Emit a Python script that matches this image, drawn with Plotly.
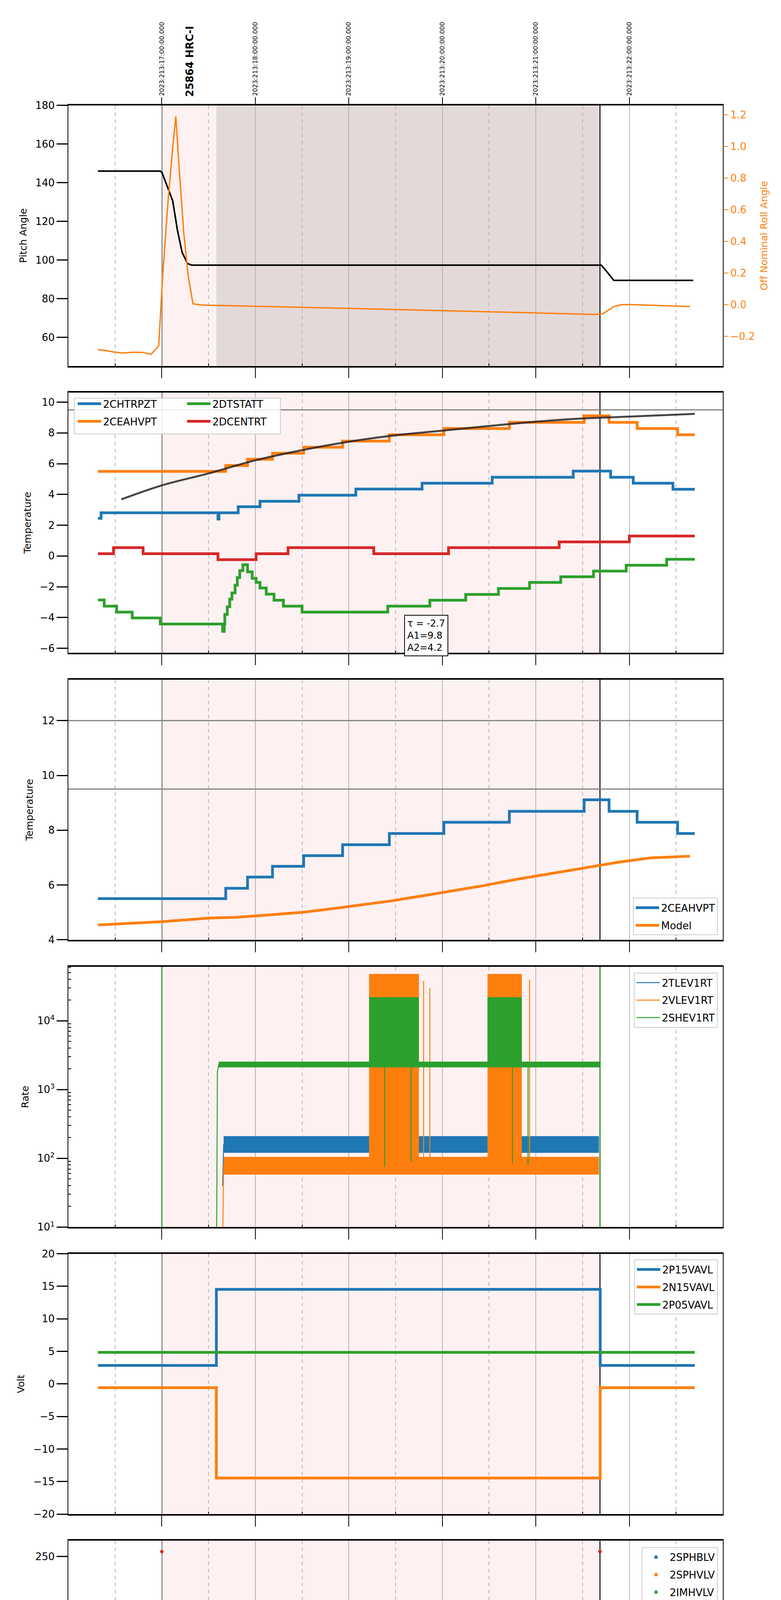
import plotly.graph_objects as go

DAY = "2023-08-01 "

# ---- timeline ---------------------------------------------------------------
X_RANGE = ["12:00", "19:00"]
HOURS = ["13:00", "14:00", "15:00", "16:00", "17:00", "18:00"]
HOUR_LABELS = ["13h", "14h", "15h", "16h", "17h", "18h"]
HALF_HOURS = ["12:30", "13:30", "14:30", "15:30", "16:30", "17:30", "18:30"]
UTC_LABELS = ["2023:213:17:00:00.000", "2023:213:18:00:00.000",
              "2023:213:19:00:00.000", "2023:213:20:00:00.000",
              "2023:213:21:00:00.000", "2023:213:22:00:00.000"]
OBS_LABEL = "25864 HRC-I"
OBS_TIME = "13:18"
SCI_START, SCI_STOP = "13:00", "17:41:10"
DWELL_START = "13:35"

# ---- panel 1: pitch / roll ----------------------------------------------------
PITCH_T = ["12:19", "12:59", "13:00", "13:07", "13:10", "13:13", "13:16:30",
           "13:19", "17:42", "17:45:30", "17:50", "18:41"]
PITCH = [146.0, 146.0, 145.5, 130.6, 115.5, 104.0, 98.2, 97.4, 97.4, 94.1,
         89.5, 89.5]
ROLL_T = ["12:19", "12:24", "12:29", "12:35", "12:41", "12:48", "12:53", "12:58",
          "13:00:30", "13:04", "13:07", "13:09", "13:11", "13:14", "13:17",
          "13:20", "13:26", "14:00", "15:00", "16:00", "17:00", "17:38",
          "17:43", "17:50", "17:55", "18:01", "18:39"]
ROLL = [-0.285, -0.29, -0.299, -0.306, -0.301, -0.302, -0.315, -0.26, 0.175,
        0.656, 0.995, 1.19, 0.88, 0.46, 0.175, 0.005, -0.003, -0.01, -0.024,
        -0.038, -0.052, -0.062, -0.058, -0.013, 0.0, 0.0, -0.012]

# ---- panel 2: temperatures ----------------------------------------------------
CHTRPZT_T = ["12:19", "12:21", "13:36", "13:36:40", "13:49", "14:03", "14:28",
             "15:04:30", "15:47", "16:32", "17:24", "17:48", "18:02:30",
             "18:28", "18:42"]
CHTRPZT = [2.45, 2.81, 2.4, 2.81, 3.2, 3.56, 3.95, 4.35, 4.73, 5.12, 5.52,
           5.12, 4.73, 4.34, 4.34]
CEAHVPT_T = ["12:19", "13:41", "13:55", "14:11", "14:31", "14:56", "15:26",
             "16:01", "16:43", "17:31", "17:47", "18:05", "18:31", "18:42"]
CEAHVPT = [5.5, 5.88, 6.29, 6.68, 7.07, 7.47, 7.88, 8.29, 8.69, 9.11, 8.69,
           8.29, 7.88, 7.88]
DTSTATT_T = ["12:19", "12:23", "12:31", "12:41", "12:59", "13:39", "13:40",
             "13:40:25", "13:42", "13:43:35", "13:45", "13:47", "13:48:25",
             "13:50", "13:52", "13:55", "13:58", "14:00:30", "14:03", "14:07",
             "14:12", "14:18", "14:30", "15:25", "15:52", "16:15", "16:36",
             "16:56", "17:16", "17:37", "17:58", "18:24", "18:42"]
DTSTATT = [-2.86, -3.26, -3.65, -4.03, -4.42, -4.9, -4.42, -3.8, -3.3, -2.8,
           -2.4, -1.9, -1.4, -0.95, -0.57, -1.03, -1.45, -1.72, -2.08, -2.48,
           -2.87, -3.26, -3.65, -3.26, -2.87, -2.5, -2.11, -1.72, -1.35,
           -0.98, -0.6, -0.21, -0.21]
DCENTRT_T = ["12:19", "12:29", "12:48", "13:36", "14:00:30", "14:21", "15:16",
             "16:04", "17:15", "18:00", "18:42"]
DCENTRT = [0.15, 0.54, 0.15, -0.24, 0.15, 0.54, 0.15, 0.54, 0.92, 1.3, 1.3]
FIT_T = ["12:34", "13:00", "13:30", "14:00", "14:30", "15:00", "15:30",
         "16:00", "16:30", "17:00", "17:30", "18:00", "18:42"]
FIT = [3.68, 4.59, 5.37, 6.22, 6.88, 7.43, 7.85, 8.15, 8.45, 8.73, 8.94, 9.06,
       9.24]
FIT_TEXT = "τ = -2.7<br>A1=9.8<br>A2=4.2"
TEMP_LIMITS = [9.5]

# ---- panel 3: model -----------------------------------------------------------
MODEL_T = ["12:19", "13:00", "13:30", "13:48", "14:08", "14:30", "14:49",
           "15:08", "15:27:30", "15:47", "16:06", "16:27", "16:47", "17:10",
           "17:32", "17:53", "18:14", "18:39"]
MODEL = [4.54, 4.66, 4.79, 4.82, 4.9, 5.0, 5.13, 5.28, 5.42, 5.6, 5.77, 5.98,
         6.2, 6.42, 6.64, 6.83, 6.99, 7.05]
MODEL_LIMITS = [12.0, 9.5]

# ---- panel 4: rates -----------------------------------------------------------
RATE_BURSTS = [("15:13", "15:45"), ("16:29", "16:51")]
TLEV_T = ["13:39", "13:39:40", "17:40:30"]
TLEV = [40, 160, 160]
TLEV_NOISE = [120, 210]
VLEV_T = ["13:39", "13:39:40", "17:40:30"]
VLEV = [5, 80, 80]
VLEV_NOISE = [58, 105]
VLEV_BURST = [60, 48000]
VLEV_SPIKES = ["15:48", "15:52", "16:56"]
VLEV_SPIKE_TOP = [38000, 30000, 40000]
SHEV_T = ["13:35", "13:35:40", "13:36:30", "17:41"]
SHEV = [1, 1800, 2300, 2300]
SHEV_NOISE = [2100, 2550]
SHEV_BURST = [2300, 22000]
SHEV_DIPS = ["15:23", "15:40", "16:45", "16:55"]
SHEV_DIP_LOW = [75, 90, 85, 80]
SHEV_GLITCH = ["13:00", "17:41:10"]

# ---- panel 5: voltages --------------------------------------------------------
VOLT_T = ["12:19", "13:35", "17:41:20", "18:42"]
P15VAVL = [2.85, 14.53, 2.85, 2.85]
N15VAVL = [-0.58, -14.45, -0.58, -0.58]
P05VAVL = [4.86, 4.86, 4.86, 4.86]

# ---- panel 6: HV monitor ------------------------------------------------------
SPHBLV_T, SPHBLV = [None], [None]
SPHVLV_T, SPHVLV = [None], [None]
IMHVLV_T = ["13:36", "13:36:10", "13:36:40", "13:37", "13:37:30", "13:38",
            "13:38:30", "15:16", "15:20", "15:24", "15:28", "16:45", "16:48"]
IMHVLV = [100, 96, 91, 88, 85, 82, 79, 127, 127, 127, 127, 127, 127]
IMHVLV_FLAT = [("13:38:30", "17:41"), 78.9]
IMHBLV_T = ["13:00", "13:36", "13:36:05", "13:36:10", "13:36:20", "13:36:40",
            "13:36:50", "13:37", "13:37:10", "13:37:30", "13:37:40", "13:38",
            "13:38:10", "15:16", "15:20", "15:24", "15:28", "16:45", "16:48",
            "17:14", "17:41:10"]
IMHBLV = [255, 127, 125, 123, 119, 106, 104, 100, 97, 95, 93, 90, 88, 79, 79,
          79, 79, 79, 79, 88, 255]
IMHBLV_FLAT = [("13:38", "17:41"), 86.2]

# ---- panel 7: detector temps --------------------------------------------------
SPINATM_T = ["13:35", "13:35:20", "13:39:50", "13:40:45", "13:41:40",
             "13:43:40", "13:44:35", "13:46:10", "13:47:30", "13:49",
             "13:50:40", "13:52:10", "13:54", "13:55:10", "13:57", "14:00",
             "14:01:50", "14:05:20", "14:08:10", "14:12:20", "14:16:30",
             "14:24:30", "14:42", "16:58", "17:41"]
SPINATM = [2.2, 2.84, 3.3, 3.8, 4.5, 5.0, 5.5, 6.0, 6.5, 7.0, 7.5, 8.06, 7.5,
           7.0, 6.5, 6.0, 5.6, 5.2, 4.9, 4.55, 4.15, 3.72, 3.27, 3.72, 3.72]
SPINATM_BURSTS = [("15:16", "15:45"), ("16:32", "16:55")]
SPHVATM_T = ["13:35", "13:35:30", "13:40", "13:40:40", "14:21", "14:29",
             "14:29:40", "14:44", "15:08", "15:45", "16:00", "16:33", "17:10",
             "17:41"]
SPHVATM = [14.57, 15.0, 14.6, 15.0, 15.27, 14.8, 15.27, 15.55, 15.83, 16.1,
           16.4, 16.67, 16.95, 16.95]
SPHVATM_BURSTS = [("15:13", "15:44", 10.5, 15.9), ("16:28", "16:51", 11.07, 16.45)]
SPHVATM_DROPS = ["15:22:40", "15:39:40"]
IMINATM_T = ["13:35", "14:37", "15:45", "16:52", "17:41"]
IMINATM = [0.78, 1.13, 1.55, 1.97, 1.97]
IMINATM_BURSTS = [("15:16", "15:45"), ("16:32", "16:52")]
IMHVATM_T = ["13:34:50", "13:35", "13:47:30", "13:54", "14:00", "14:07",
             "14:15", "14:24", "14:34", "14:47", "15:00", "15:45", "16:00",
             "16:52", "17:03", "17:41:10", "17:41:10"]
IMHVATM = [-5, 14.43, 14.74, 15.0, 15.27, 15.55, 15.83, 16.1, 16.4, 16.67,
           16.95, 17.5, 17.8, 18.1, 18.4, 25, -5]
IMHVATM_BURSTS = [("15:13", "15:45", 15.8, 17.3), ("16:28", "16:52", 16.6, 18.15)]

# ---- panel 8: FEA temps -------------------------------------------------------
FHTRMZT_T = ["12:19", "13:49", "13:59", "14:07:30", "14:16:10", "14:25:10",
             "14:34:30", "14:44:20", "14:54:30", "15:04:50", "15:15:20",
             "15:26", "15:37", "15:48:20", "16:00", "16:12:10", "16:25:40",
             "16:37:50", "16:52:10", "17:05:40", "17:20", "17:34:40", "18:04",
             "18:17:50", "18:32", "18:42"]
FHTRMZT = [-8.39, -7.96, -7.56, -7.15, -6.76, -6.36, -5.98, -5.58, -5.2,
           -4.81, -4.42, -4.03, -3.65, -3.28, -2.87, -2.51, -2.12, -1.73,
           -1.37, -0.99, -0.6, -0.24, -0.6, -0.99, -1.37, -1.37]
FRADPYT_T = ["14:02", "14:03:25", "14:13:20", "14:23", "14:33:30", "14:44:20",
             "14:55:30", "15:06:40", "15:18:30", "15:30:40", "15:43:30",
             "15:56:20", "16:09:40", "16:24", "16:38:50", "16:53:10",
             "17:07:50", "17:23:10", "17:40:10", "17:50:40", "18:03:30",
             "18:15:40", "18:28:40", "18:42"]
FRADPYT = [-10.05, -9.62, -9.2, -8.79, -8.39, -7.96, -7.56, -7.15, -6.76,
           -6.36, -5.98, -5.58, -5.2, -4.81, -4.42, -4.03, -3.65, -3.28, -2.87,
           -3.28, -3.65, -4.03, -4.42, -4.42]
FEPRATM_T = ["13:36:15", "13:37:50", "13:40:40", "13:43:40", "13:47", "13:52",
             "13:58", "14:04:20", "14:11:50", "14:20:20", "14:29", "14:38",
             "14:48:30", "14:57:50", "15:09", "15:45", "15:58:50", "16:11:40",
             "16:26:40", "16:52", "16:57:40", "17:14:30", "17:32", "17:41"]
FEPRATM = [-7.03, -6.6, -6.17, -5.8, -5.4, -4.99, -4.62, -4.22, -3.81, -3.42,
           -3.01, -2.64, -2.23, -1.83, -1.4, -0.17, 0.25, 0.68, 1.06, 1.49,
           1.97, 2.4, 3.0, 3.0]
FEPRATM_BURSTS = [("15:16", "15:44", -4.7, -1.3), ("16:33", "16:52", -4.7, 1.5)]
FE00ATM_T = ["13:34:50", "13:35", "13:44", "13:50", "13:57", "14:03",
             "14:08:30", "14:16", "14:23", "14:29", "14:37", "14:43:40",
             "14:51", "14:58:40", "15:10", "15:45", "15:52", "16:02:40",
             "16:12", "16:22:30", "16:52", "16:57", "17:06:40", "17:18",
             "17:31", "17:41:10", "17:41:10"]
FE00ATM = [-12, -6.33, -5.98, -5.6, -5.25, -4.9, -4.52, -4.18, -3.85, -3.5,
           -3.15, -2.8, -2.45, -2.1, -1.8, -0.46, -0.13, 0.23, 0.49, 0.81,
           1.43, 1.73, 2.05, 2.34, 3.0, 5, -12]
FE00ATM_BURSTS = [("15:13", "15:45", -1.5, 3.0), ("16:28", "16:52", 0.9, 3.0)]
FE00ATM_DROPS = ["15:22:40", "15:39:40", "16:45"]
FE00ATM_SPIKES_T = ["14:32:30", "14:46:30", "15:05", "15:54", "16:06",
                    "16:25", "16:55", "17:31"]
FE00ATM_SPIKES_LO = [-3.95, -2.8, -2.85, -0.85, 0.23, 0.1, 1.0, 1.05]
FE00ATM_SPIKES_HI = [-3.5, -2.1, -2.1, -0.13, 1.45, 0.81, 1.43, 2.6]

# ---- styling ------------------------------------------------------------------
BLUE, ORANGE, GREEN, RED = "#1f77b4", "#ff7f0e", "#2ca02c", "#d62728"
PINK, DWELL = "#fdf1f1", "#e4d9d9"
GRID = "#b4b4b4"
FONT = "DejaVu Sans"
W, H = 2000, 6200
X0, X1 = 167, 1843
TOP0, STEP, PH = 248, 738.5, 670
LW = 7  # width of the thick telemetry lines

Y_TITLES = ["Pitch Angle", "Temperature", "Temperature", "Rate", "Volt",
            "HV Monitor", "Detector Temp", "FEA Temp"]
Y_RANGES = [[45.3, 180], [-6.3, 10.63], [3.99, 13.5], [1.0, 4.787],
            [-20, 20], [0, 266], [-0.84, 19.6], [-9.9, 2.6]]
Y_TICKS = [[60, 80, 100, 120, 140, 160, 180],
           [-6, -4, -2, 0, 2, 4, 6, 8, 10],
           [4, 6, 8, 10, 12],
           [10, 100, 1000, 10000],
           [-20, -15, -10, -5, 0, 5, 10, 15, 20],
           [0, 50, 100, 150, 200, 250],
           [0, 2.5, 5, 7.5, 10, 12.5, 15, 17.5],
           [-8, -6, -4, -2, 0, 2]]


def T(times):
    return [None if t is None else DAY + t for t in times]


def axes(i):
    return ("x" if i == 1 else f"x{i}"), ("y" if i == 1 else f"y{i}")


fig = go.Figure()


def line(i, times, vals, color, width=LW, name=None, legend=None, shape="hv",
         yaxis=None):
    xa, ya = axes(i)
    fig.add_trace(go.Scatter(
        x=T(times), y=vals, mode="lines", name=name, legendgroup=name,
        line=dict(color=color, width=width, shape=shape),
        showlegend=name is not None, legend=legend,
        xaxis=xa, yaxis=yaxis or ya))


def band(i, t0, t1, lo, hi, color):
    xa, ya = axes(i)
    fig.add_trace(go.Scatter(
        x=T([t0, t1, t1, t0, t0]), y=[lo, lo, hi, hi, lo], mode="lines",
        fill="toself", fillcolor=color, line=dict(width=0, color=color),
        showlegend=False, hoverinfo="skip", xaxis=xa, yaxis=ya))


def spikes(i, times, lo, hi, color, width=3):
    xa, ya = axes(i)
    xs, ys = [], []
    for t, a, b in zip(times, lo, hi):
        xs += [DAY + t, DAY + t, None]
        ys += [a, b, None]
    fig.add_trace(go.Scatter(x=xs, y=ys, mode="lines",
                             line=dict(color=color, width=width),
                             showlegend=False, xaxis=xa, yaxis=ya))


def dots(i, times, vals, color, name, legend, size=9):
    xa, ya = axes(i)
    fig.add_trace(go.Scatter(x=T(times), y=vals, mode="markers", name=name,
                             legendgroup=name, marker=dict(color=color, size=size),
                             showlegend=True, legend=legend,
                             xaxis=xa, yaxis=ya))


# panel 1
line(1, PITCH_T, PITCH, "black", width=4, shape="linear")
line(1, ROLL_T, ROLL, ORANGE, width=3.5, shape="linear", yaxis="y9")
fig.add_trace(go.Scatter(x=T(X_RANGE), y=[None, None], xaxis="x9", yaxis="y",
                         showlegend=False))

# panel 2
line(2, CHTRPZT_T, CHTRPZT, BLUE, name="2CHTRPZT", legend="legend")
line(2, CEAHVPT_T, CEAHVPT, ORANGE, name="2CEAHVPT", legend="legend")
line(2, DTSTATT_T, DTSTATT, GREEN, name="2DTSTATT", legend="legend8")
line(2, DCENTRT_T, DCENTRT, RED, name="2DCENTRT", legend="legend8")
line(2, FIT_T, FIT, "rgba(40,35,35,0.85)", width=5, shape="spline")

# panel 3
line(3, CEAHVPT_T, CEAHVPT, BLUE, name="2CEAHVPT", legend="legend2")
line(3, MODEL_T, MODEL, ORANGE, name="Model", legend="legend2", shape="linear")

# panel 4
band(4, TLEV_T[1], TLEV_T[-1], TLEV_NOISE[0], TLEV_NOISE[1], BLUE)
line(4, TLEV_T, TLEV, BLUE, width=2.5, name="2TLEV1RT", legend="legend3",
     shape="linear")
band(4, VLEV_T[1], VLEV_T[-1], VLEV_NOISE[0], VLEV_NOISE[1], ORANGE)
line(4, VLEV_T, VLEV, ORANGE, width=2.5, name="2VLEV1RT", legend="legend3",
     shape="linear")
for t0, t1 in RATE_BURSTS:
    band(4, t0, t1, VLEV_BURST[0], VLEV_BURST[1], ORANGE)
spikes(4, VLEV_SPIKES, [VLEV_BURST[0]] * 3, VLEV_SPIKE_TOP, ORANGE, 2.5)
band(4, SHEV_T[2], SHEV_T[-1], SHEV_NOISE[0], SHEV_NOISE[1], GREEN)
line(4, SHEV_T, SHEV, GREEN, width=2.5, name="2SHEV1RT", legend="legend3",
     shape="linear")
for t0, t1 in RATE_BURSTS:
    band(4, t0, t1, SHEV_BURST[0], SHEV_BURST[1], GREEN)
spikes(4, SHEV_DIPS, SHEV_DIP_LOW, [SHEV_BURST[0]] * 4, GREEN, 2.5)
spikes(4, SHEV_GLITCH, [1, 1], [1e6, 1e6], GREEN, 2.5)

# panel 5
line(5, VOLT_T, P15VAVL, BLUE, name="2P15VAVL", legend="legend4")
line(5, VOLT_T, N15VAVL, ORANGE, name="2N15VAVL", legend="legend4")
line(5, VOLT_T, P05VAVL, GREEN, name="2P05VAVL", legend="legend4")

# panel 6
dots(6, SPHBLV_T, SPHBLV, BLUE, "2SPHBLV", "legend5")
dots(6, SPHVLV_T, SPHVLV, ORANGE, "2SPHVLV", "legend5")
line(6, list(IMHVLV_FLAT[0]), [IMHVLV_FLAT[1]] * 2, GREEN, width=13,
     shape="linear")
dots(6, IMHVLV_T, IMHVLV, GREEN, "2IMHVLV", "legend5")
line(6, list(IMHBLV_FLAT[0]), [IMHBLV_FLAT[1]] * 2, RED, width=11,
     shape="linear")
dots(6, IMHBLV_T, IMHBLV, RED, "2IMHBLV", "legend5")

# panel 7
for t0, t1 in SPINATM_BURSTS:
    band(7, t0, t1, -5, SPINATM[-3], BLUE)
line(7, SPINATM_T, SPINATM, BLUE, name="2SPINATM", legend="legend6")
for t0, t1, lo, hi in SPHVATM_BURSTS:
    band(7, t0, t1, lo, hi, ORANGE)
spikes(7, SPHVATM_DROPS, [-5, -5], [10.5, 10.8], ORANGE, 3)
line(7, SPHVATM_T, SPHVATM, ORANGE, name="2SPHVATM", legend="legend6")
for t0, t1 in IMINATM_BURSTS:
    band(7, t0, t1, 0.1, SPINATM[-3], GREEN)
line(7, IMINATM_T, IMINATM, GREEN, name="2IMINATM", legend="legend6")
for t0, t1, lo, hi in IMHVATM_BURSTS:
    band(7, t0, t1, lo, hi, RED)
spikes(7, SPHVATM_DROPS[:1], [10.5], [15.8], RED, 3)
line(7, IMHVATM_T, IMHVATM, RED, name="2IMHVATM", legend="legend6")

# panel 8
line(8, FHTRMZT_T, FHTRMZT, BLUE, name="2FHTRMZT", legend="legend7")
line(8, FRADPYT_T, FRADPYT, ORANGE, name="2FRADPYT", legend="legend7")
for t0, t1, lo, hi in FEPRATM_BURSTS:
    band(8, t0, t1, lo, hi, GREEN)
line(8, FEPRATM_T, FEPRATM, GREEN, name="2FEPRATM", legend="legend7")
for t0, t1, lo, hi in FE00ATM_BURSTS:
    band(8, t0, t1, lo, hi, RED)
spikes(8, FE00ATM_DROPS, [-12] * 3, [5] * 3, RED, 5)
spikes(8, FE00ATM_SPIKES_T, FE00ATM_SPIKES_LO, FE00ATM_SPIKES_HI, RED, 4)
line(8, FE00ATM_T, FE00ATM, RED, name="2FE00ATM", legend="legend7")

# ---- layout -------------------------------------------------------------------
layout = dict(
    width=W, height=H, autosize=False,
    margin=dict(l=0, r=0, t=0, b=0),
    paper_bgcolor="white", plot_bgcolor="white",
    font=dict(family=FONT, size=24, color="black"),
)
shapes, annotations = [], []

for i in range(1, 9):
    top = TOP0 + STEP * (i - 1)
    dom = [1 - (top + PH) / H, 1 - top / H]
    xa, ya = axes(i)
    xkey = "xaxis" if i == 1 else f"xaxis{i}"
    ykey = "yaxis" if i == 1 else f"yaxis{i}"
    layout[xkey] = dict(
        type="date", range=T(X_RANGE), domain=[X0 / W, X1 / W], anchor=ya,
        tickmode="array", tickvals=T(HOURS), ticktext=HOUR_LABELS,
        showticklabels=(i == 8), tickfont=dict(size=27),
        ticks="outside", ticklen=28, tickwidth=2, tickcolor="black",
        showgrid=True, gridcolor=GRID, gridwidth=1.5,
        minor=dict(tickmode="array", tickvals=T(HALF_HOURS), ticks="inside",
                   ticklen=7, tickwidth=1.5, tickcolor="black",
                   showgrid=True, gridcolor=GRID, gridwidth=1.5,
                   griddash="dash"),
        showline=True, linecolor="black", linewidth=3.5, mirror=True,
        zeroline=False,
    )
    yax = dict(
        domain=dom, anchor=xa, range=Y_RANGES[i - 1],
        tickmode="array", tickvals=Y_TICKS[i - 1],
        title=dict(text=Y_TITLES[i - 1], font=dict(size=25)),
        ticks="outside", ticklen=28, tickwidth=3, tickcolor="black",
        tickfont=dict(size=26),
        showgrid=False, zeroline=False,
        showline=True, linecolor="black", linewidth=1.5, mirror=True,
    )
    if i == 4:
        yax.update(type="log", ticktext=["10<sup>1</sup>", "10<sup>2</sup>",
                                         "10<sup>3</sup>", "10<sup>4</sup>"],
                   minor=dict(tickmode="array", ticks="inside", ticklen=7,
                              tickwidth=1.5, tickcolor="black",
                              tickvals=[20, 30, 40, 50, 60, 70, 80, 90,
                                        200, 300, 400, 500, 600, 700, 800, 900,
                                        2000, 3000, 4000, 5000, 6000, 7000,
                                        8000, 9000, 20000, 30000, 40000,
                                        50000, 60000]))
    if i == 7:
        yax.update(tickformat=".1f")
    layout[ykey] = yax

    # observation shading and boundaries
    shapes.append(dict(type="rect", xref=xa, yref=f"{ya} domain",
                       x0=DAY + SCI_START, x1=DAY + SCI_STOP, y0=0, y1=1,
                       fillcolor=PINK, line=dict(width=0), layer="below"))
    if i == 1:
        shapes.append(dict(type="rect", xref=xa, yref=f"{ya} domain",
                           x0=DAY + DWELL_START, x1=DAY + SCI_STOP, y0=0, y1=1,
                           fillcolor=DWELL, line=dict(width=0), layer="below"))
    for t in (SCI_START, SCI_STOP):
        shapes.append(dict(type="line", xref=xa, yref=f"{ya} domain",
                           x0=DAY + t, x1=DAY + t, y0=0, y1=1,
                           line=dict(color="black", width=2.5), layer="below"))

for i, lims in ((2, TEMP_LIMITS), (3, MODEL_LIMITS)):
    xa, ya = axes(i)
    for v in lims:
        shapes.append(dict(type="line", xref=f"{xa} domain", yref=ya,
                           x0=0, x1=1, y0=v, y1=v,
                           line=dict(color="#808080", width=3),
                           layer="above"))

# right axis of the pitch panel
layout["yaxis9"] = dict(
    overlaying="y", side="right", anchor="x", range=[-0.387, 1.259],
    tickmode="array", tickvals=[-0.2, 0, 0.2, 0.4, 0.6, 0.8, 1.0, 1.2],
    tickformat=".1f", tickfont=dict(size=26, color=ORANGE),
    ticks="outside", ticklen=13, tickwidth=2, tickcolor=ORANGE,
    title=dict(text="Off Nominal Roll Angle", font=dict(size=25, color=ORANGE)),
    showgrid=False, zeroline=False,
)
# UTC labels on top of the pitch panel
layout["xaxis9"] = dict(
    type="date", overlaying="x", side="top", anchor="y", range=T(X_RANGE),
    tickmode="array", tickvals=T(HOURS), ticktext=UTC_LABELS, tickangle=-90,
    tickfont=dict(size=16), ticks="outside", ticklen=20, tickwidth=2,
    tickcolor="black", showgrid=False, showline=False, zeroline=False,
)

annotations.append(dict(text=f"<b>{OBS_LABEL}</b>", x=DAY + OBS_TIME, xref="x",
                        y=1 - 228 / H, yref="paper", yanchor="bottom",
                        xanchor="center", textangle=-90, showarrow=False,
                        font=dict(size=26)))
annotations.append(dict(text=FIT_TEXT, x=1027 / W, xref="paper", xanchor="left",
                        y=1 - 1559 / H, yref="paper", yanchor="top",
                        align="left", showarrow=False, bgcolor="white",
                        bordercolor="black", borderwidth=2, borderpad=6,
                        font=dict(size=24)))
for t in HALF_HOURS:
    annotations.append(dict(text="30", x=DAY + t, xref="x8", y=1 - 6107 / H,
                            yref="paper", yanchor="middle", showarrow=False,
                            font=dict(size=18)))
annotations.append(dict(text="2023-08-01 (213)", x=(X0 + X1) / 2 / W,
                        xref="paper", y=1 - 6185 / H, yref="paper",
                        yanchor="middle", showarrow=False, font=dict(size=32)))

# legends
LEG = dict(font=dict(size=26), bgcolor="rgba(255,255,255,0.85)",
           bordercolor="#cccccc", borderwidth=2, itemwidth=60,
           tracegroupgap=8, orientation="v")
layout["legend"] = dict(LEG, x=186 / W, y=1 - 992 / H, xanchor="left",
                        yanchor="top", bgcolor="rgba(0,0,0,0)", borderwidth=0)
layout["legend8"] = dict(LEG, x=466 / W, y=1 - 992 / H, xanchor="left",
                         yanchor="top", bgcolor="rgba(0,0,0,0)", borderwidth=0)
shapes.append(dict(type="rect", xref="paper", yref="paper", x0=182 / W,
                   x1=710 / W, y0=1 - 1093 / H, y1=1 - 1001 / H,
                   fillcolor="rgba(255,255,255,0.85)",
                   line=dict(color="#cccccc", width=2), layer="above"))
layout["legend2"] = dict(LEG, x=1830 / W, y=1 - 2383 / H, xanchor="right",
                         yanchor="bottom")
layout["legend3"] = dict(LEG, x=1830 / W, y=1 - 2479 / H, xanchor="right",
                         yanchor="top")
layout["legend4"] = dict(LEG, x=1830 / W, y=1 - 3217 / H, xanchor="right",
                         yanchor="top")
layout["legend5"] = dict(LEG, x=1830 / W, y=1 - 3957 / H, xanchor="right",
                         yanchor="top")
layout["legend6"] = dict(LEG, x=1830 / W, y=1 - 4695 / H, xanchor="right",
                         yanchor="top")
layout["legend7"] = dict(LEG, x=1830 / W, y=1 - 6077 / H, xanchor="right",
                         yanchor="bottom")

layout["shapes"] = shapes
layout["annotations"] = annotations
fig.update_layout(**layout)

fig.write_html("out.html")
